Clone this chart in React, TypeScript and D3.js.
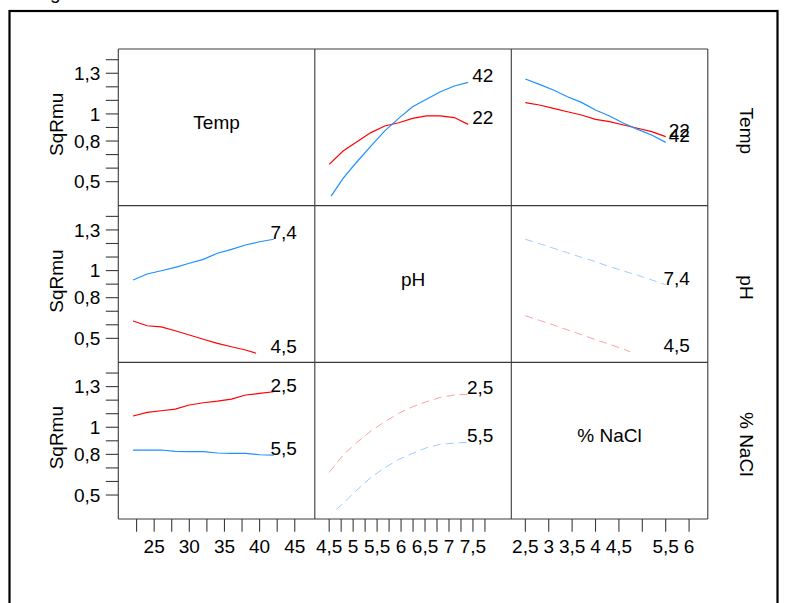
import React from "react";
import * as d3 from "d3";

// ---------- DATA ----------
const factorNames = ["Temp", "pH", "% NaCl"];
const yAxisTitle = "SqRmu";

const tempGrid = [22, 24, 26, 28, 30, 32, 34, 36, 38, 40, 42];
const phGrid = [4.5, 4.79, 5.08, 5.37, 5.66, 5.95, 6.24, 6.53, 6.82, 7.11, 7.4];
const naclGrid = [2.5, 2.8, 3.1, 3.4, 3.7, 4.0, 4.3, 4.6, 4.9, 5.2, 5.5];

// Row "Temp" (levels 22 / 42)
const temp22VsPh = [0.628, 0.726, 0.795, 0.862, 0.911, 0.935, 0.967, 0.985, 0.985, 0.973, 0.923];
const temp42VsPhX = [4.54, 4.79, 5.08, 5.37, 5.66, 5.95, 6.24, 6.53, 6.82, 7.11, 7.4];
const temp42VsPh = [0.394, 0.525, 0.647, 0.763, 0.875, 0.967, 1.053, 1.108, 1.164, 1.206, 1.233];
const temp22VsNacl = [1.083, 1.066, 1.041, 1.016, 0.992, 0.96, 0.943, 0.918, 0.894, 0.869, 0.832];
const temp42VsNacl = [1.258, 1.218, 1.176, 1.127, 1.085, 1.029, 0.985, 0.931, 0.886, 0.844, 0.79];

// Row "pH" (levels 4,5 / 7,4)
const ph45VsTempX = [22, 24, 26, 28, 30, 32, 34, 36, 38, 39.5];
const ph45VsTemp = [0.628, 0.593, 0.584, 0.556, 0.525, 0.493, 0.463, 0.438, 0.414, 0.39];
const ph74VsTemp = [0.931, 0.975, 0.999, 1.024, 1.054, 1.083, 1.128, 1.157, 1.189, 1.213, 1.231];
const ph45VsNaclX = [2.5, 2.8, 3.1, 3.4, 3.7, 4.0, 4.3, 4.6, 4.74];
const ph45VsNacl = [0.667, 0.633, 0.599, 0.562, 0.527, 0.49, 0.456, 0.421, 0.4];
const ph74VsNacl = [1.231, 1.199, 1.165, 1.132, 1.098, 1.066, 1.029, 0.997, 0.965, 0.931, 0.896];

// Row "% NaCl" (levels 2,5 / 5,5)
const nacl25VsTemp = [1.083, 1.11, 1.122, 1.134, 1.164, 1.181, 1.193, 1.208, 1.238, 1.25, 1.262];
const nacl55VsTemp = [0.832, 0.832, 0.832, 0.822, 0.82, 0.82, 0.81, 0.808, 0.808, 0.797, 0.795];
const nacl25VsPh = [0.667, 0.795, 0.889, 0.972, 1.041, 1.103, 1.151, 1.188, 1.221, 1.238, 1.243];
const nacl55VsPhX = [4.65, 4.79, 5.08, 5.37, 5.66, 5.95, 6.24, 6.53, 6.82, 7.11, 7.4];
const nacl55VsPh = [0.394, 0.438, 0.537, 0.63, 0.701, 0.763, 0.807, 0.849, 0.874, 0.883, 0.889];

// Axis ticks
const yTicks = [0.5, 0.6, 0.7, 0.8, 0.9, 1.0, 1.1, 1.2, 1.3, 1.4];
const yTickLabels = ["0,5", "", "", "0,8", "", "1", "", "", "1,3", ""];
const tempTicks = [22.5, 25, 27.5, 30, 32.5, 35, 37.5, 40, 42.5, 45];
const tempTickLabels = ["", "25", "", "30", "", "35", "", "40", "", "45"];
const phTicks = [4.5, 4.75, 5, 5.25, 5.5, 5.75, 6, 6.25, 6.5, 6.75, 7, 7.25, 7.5, 7.75];
const phTickLabels = ["4,5", "", "5", "", "5,5", "", "6", "", "6,5", "", "7", "", "7,5", ""];
const naclTicks = [2.5, 3, 3.5, 4, 4.5, 5, 5.5, 6];
const naclTickLabels = ["2,5", "3", "3,5", "4", "4,5", "", "5,5", "6"];

// ---------- LAYOUT ----------
const W = 789;
const H = 603;
const X0 = 118.3;
const Y0 = 49;
const PW = 196.5;
const PH = 156.67;
const FONT = "'Liberation Sans', Arial, Helvetica, sans-serif";
const FS = 19;
const RED = "#ff0000";
const BLUE = "#1e90ff";
const LRED = "#ffa0a0";
const LBLUE = "#9ccdff";

const colScale = [
  d3.scaleLinear().domain([19.9, 47.85]).range([X0, X0 + PW]),
  d3.scaleLinear().domain([4.2, 8.3]).range([X0 + PW, X0 + 2 * PW]),
  d3.scaleLinear().domain([2.2, 6.4]).range([X0 + 2 * PW, X0 + 3 * PW]),
];
const rowScale = [0, 1, 2].map((r) =>
  d3.scaleLinear().domain([0.323, 1.479]).range([Y0 + (r + 1) * PH, Y0 + r * PH])
);

type Series = { row: number; col: number; xs: number[]; ys: number[]; color: string; dashed: boolean; label: string };

const series: Series[] = [
  { row: 0, col: 1, xs: phGrid, ys: temp22VsPh, color: RED, dashed: false, label: "22" },
  { row: 0, col: 1, xs: temp42VsPhX, ys: temp42VsPh, color: BLUE, dashed: false, label: "42" },
  { row: 0, col: 2, xs: naclGrid, ys: temp22VsNacl, color: RED, dashed: false, label: "22" },
  { row: 0, col: 2, xs: naclGrid, ys: temp42VsNacl, color: BLUE, dashed: false, label: "42" },
  { row: 1, col: 0, xs: ph45VsTempX, ys: ph45VsTemp, color: RED, dashed: false, label: "4,5" },
  { row: 1, col: 0, xs: tempGrid, ys: ph74VsTemp, color: BLUE, dashed: false, label: "7,4" },
  { row: 1, col: 2, xs: ph45VsNaclX, ys: ph45VsNacl, color: LRED, dashed: true, label: "4,5" },
  { row: 1, col: 2, xs: naclGrid, ys: ph74VsNacl, color: LBLUE, dashed: true, label: "7,4" },
  { row: 2, col: 0, xs: tempGrid, ys: nacl25VsTemp, color: RED, dashed: false, label: "2,5" },
  { row: 2, col: 0, xs: tempGrid, ys: nacl55VsTemp, color: BLUE, dashed: false, label: "5,5" },
  { row: 2, col: 1, xs: phGrid, ys: nacl25VsPh, color: LRED, dashed: true, label: "2,5" },
  { row: 2, col: 1, xs: nacl55VsPhX, ys: nacl55VsPh, color: LBLUE, dashed: true, label: "5,5" },
];

const xTickSets = [
  { ticks: tempTicks, labels: tempTickLabels },
  { ticks: phTicks, labels: phTickLabels },
  { ticks: naclTicks, labels: naclTickLabels },
];

export default function App() {
  const gridColor = "#3a3a3a";
  const bottom = Y0 + 3 * PH;
  return (
    <svg
      width={W}
      height={H}
      style={{ position: "absolute", left: 0, top: 0, background: "#fff" }}
      fontFamily={FONT}
    >
      <rect x={0} y={0} width={W} height={H} fill="#fff" />
      {/* cropped caption glyph above the frame */}
      <text x={50} y={-1.5} fontSize={FS} fill="#000">g</text>
      {/* outer frame */}
      <rect x={9.5} y={11} width={768} height={640} fill="none" stroke="#000" strokeWidth={2.2} />

      {/* panel grid */}
      {[0, 1, 2, 3].map((i) => (
        <line key={"v" + i} x1={X0 + i * PW} x2={X0 + i * PW} y1={Y0} y2={bottom} stroke={gridColor} strokeWidth={1.1} />
      ))}
      {[0, 1, 2, 3].map((i) => (
        <line key={"h" + i} x1={X0} x2={X0 + 3 * PW} y1={Y0 + i * PH} y2={Y0 + i * PH} stroke={gridColor} strokeWidth={1.1} />
      ))}

      {/* y axes (left) */}
      {[0, 1, 2].map((r) => (
        <g key={"ya" + r}>
          {yTicks.map((t, i) => (
            <g key={i}>
              <line x1={X0 - 12.5} x2={X0} y1={rowScale[r](t)} y2={rowScale[r](t)} stroke={gridColor} strokeWidth={1.1} />
              {yTickLabels[i] && (
                <text x={X0 - 18} y={rowScale[r](t) + 6.8} fontSize={FS} textAnchor="end" fill="#000">
                  {yTickLabels[i]}
                </text>
              )}
            </g>
          ))}
          <text
            transform={`translate(${63},${Y0 + r * PH + PH / 2 - 3}) rotate(-90)`}
            fontSize={FS}
            textAnchor="middle"
            fill="#000"
          >
            {yAxisTitle}
          </text>
        </g>
      ))}

      {/* x axes (bottom) */}
      {xTickSets.map((s, c) => (
        <g key={"xa" + c}>
          {s.ticks.map((t, i) => (
            <g key={i}>
              <line x1={colScale[c](t)} x2={colScale[c](t)} y1={bottom} y2={bottom + 12.7} stroke={gridColor} strokeWidth={1.1} />
              {s.labels[i] && (
                <text x={colScale[c](t)} y={bottom + 34} fontSize={FS} textAnchor="middle" fill="#000">
                  {s.labels[i]}
                </text>
              )}
            </g>
          ))}
        </g>
      ))}

      {/* diagonal titles */}
      {factorNames.map((n, i) => (
        <text key={"d" + i} x={X0 + i * PW + PW / 2} y={Y0 + i * PH + PH / 2 + 1.5} fontSize={FS} textAnchor="middle" fill="#000">
          {n}
        </text>
      ))}

      {/* right titles */}
      {factorNames.map((n, i) => (
        <text
          key={"r" + i}
          transform={`translate(${740},${Y0 + i * PH + PH / 2 + 3.5}) rotate(90)`}
          fontSize={FS}
          textAnchor="middle"
          fill="#000"
        >
          {n}
        </text>
      ))}

      {/* series */}
      {series.map((s, k) => {
        const xs = colScale[s.col];
        const ys = rowScale[s.row];
        const pts: [number, number][] = s.xs.map((x, i) => [xs(x), ys(s.ys[i])]);
        const path = d3.line()(pts) || "";
        const last = pts[pts.length - 1];
        const right = X0 + (s.col + 1) * PW - 18;
        return (
          <g key={"s" + k}>
            <path
              d={path}
              fill="none"
              stroke={s.color}
              strokeWidth={s.dashed ? 1 : 1.2}
              strokeDasharray={s.dashed ? "8,5" : undefined}
            />
            <text x={right} y={last[1]} fontSize={FS} textAnchor="end" fill="#000">
              {s.label}
            </text>
          </g>
        );
      })}
    </svg>
  );
}
